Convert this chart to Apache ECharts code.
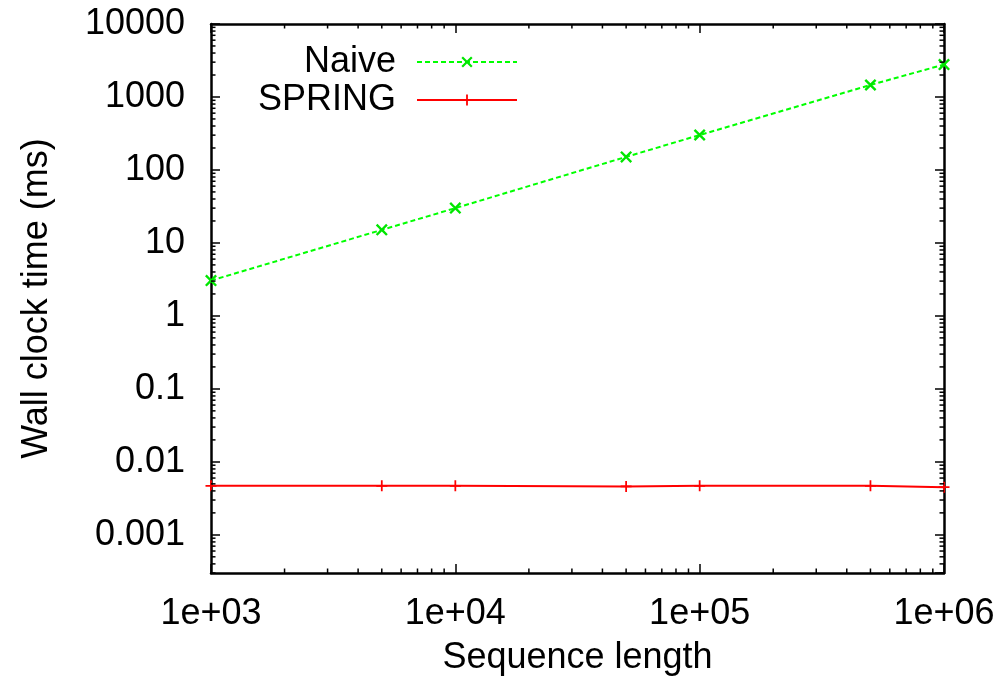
<!DOCTYPE html>
<html>
<head>
<meta charset="utf-8">
<script src="https://cdn.jsdelivr.net/npm/echarts@6/dist/echarts.min.js"></script>
<style>
html,body{margin:0;padding:0;background:#fff;}
#chart{width:1001px;height:687px;}
</style>
</head>
<body>
<div id="chart"></div>
<script>
// ---- data ----
var seqLength = [1000, 5000, 10000, 50000, 100000, 500000, 1000000];
var naiveMs   = [3.05, 15.1, 30, 151, 301, 1460, 2780];
var springMs  = [0.0047, 0.0047, 0.0047, 0.0046, 0.0047, 0.0047, 0.0045];

var xMin = 1000, xMax = 1000000;
var yMin = 0.0003, yMax = 10000;

var xTickLabels = {3: '1e+03', 4: '1e+04', 5: '1e+05', 6: '1e+06'};
var yTickLabels = {'-3': '0.001', '-2': '0.01', '-1': '0.1', '0': '1', '1': '10', '2': '100', '3': '1000', '4': '10000'};

var minorMultiples = [2, 3, 4, 5, 6, 7, 8, 9];
var xDecades = [1e3, 1e4, 1e5];
var yDecades = [1e-4, 1e-3, 1e-2, 1e-1, 1, 10, 100, 1000];

var xMinor = [];
xDecades.forEach(function (d) { minorMultiples.forEach(function (m) { var v = m * d; if (v > xMin && v < xMax) xMinor.push(v); }); });
var yMinor = [];
yDecades.forEach(function (d) { minorMultiples.forEach(function (m) { var v = m * d; if (v > yMin && v < yMax) yMinor.push(v); }); });

var FONT = 'Liberation Sans, Arial, Helvetica, sans-serif';
var FS = 36;
var MAJOR = 9, MINOR = 4.5;

var plusPath = 'path://M4.2,0H5.8V4.2H10V5.8H5.8V10H4.2V5.8H0V4.2H4.2Z';
var crossPath = 'path://M0,1.4L1.4,0L5,3.6L8.6,0L10,1.4L6.4,5L10,8.6L8.6,10L5,6.4L1.4,10L0,8.6L3.6,5Z';

function logKey(v) { return String(Math.round(Math.log10(v))); }

var chart = echarts.init(document.getElementById('chart'), null, {renderer: 'canvas'});

var tickStyle = {color: '#000', width: 1.5};
var lineStyleAxis = {color: '#000', width: 2.5};

var option = {
  animation: false,
  backgroundColor: '#fff',
  textStyle: {fontFamily: FONT},
  grid: {left: 211, top: 24, right: 57, bottom: 114, outerBoundsMode: 'none', containLabel: false},
  legend: [
    {
      data: ['Naive'], right: 483, top: 44, orient: 'vertical', align: 'right', padding: 0,
      itemWidth: 100, itemHeight: 14, selectedMode: false,
      textStyle: {fontSize: FS, fontFamily: FONT, color: '#000', padding: [0, 16, 0, 0]}
    },
    {
      data: ['SPRING'], right: 483, top: 82, orient: 'vertical', align: 'right', padding: 0,
      itemWidth: 100, itemHeight: 14, selectedMode: false,
      textStyle: {fontSize: FS, fontFamily: FONT, color: '#000', padding: [0, 16, 0, 0]}
    }
  ],
  xAxis: [
    {
      type: 'log', logBase: 10, min: xMin, max: xMax, position: 'bottom',
      name: 'Sequence length', nameLocation: 'middle', nameGap: 67,
      nameTextStyle: {fontSize: FS, fontFamily: FONT, color: '#000'},
      axisLine: {show: true, lineStyle: lineStyleAxis},
      axisTick: {show: true, inside: true, length: MAJOR, lineStyle: tickStyle},
      axisLabel: {
        fontSize: FS, fontFamily: FONT, color: '#000', margin: 23,
        formatter: function (v) { return xTickLabels[logKey(v)] || ''; }
      },
      splitLine: {show: false}
    },
    {
      type: 'log', logBase: 10, min: xMin, max: xMax, position: 'top',
      axisLine: {show: true, lineStyle: lineStyleAxis},
      axisTick: {show: true, inside: true, length: MAJOR, lineStyle: tickStyle},
      axisLabel: {show: false},
      splitLine: {show: false}
    }
  ],
  yAxis: [
    {
      type: 'log', logBase: 10, min: yMin, max: yMax, position: 'left',
      name: 'Wall clock time (ms)', nameLocation: 'middle', nameGap: 156,
      nameTextStyle: {fontSize: FS, fontFamily: FONT, color: '#000'},
      axisLine: {show: true, lineStyle: lineStyleAxis},
      axisTick: {show: true, inside: true, length: MAJOR, lineStyle: tickStyle},
      axisLabel: {
        fontSize: FS, fontFamily: FONT, color: '#000', margin: 26, showMinLabel: false,
        formatter: function (v) { return yTickLabels[logKey(v)] || ''; }
      },
      splitLine: {show: false}
    },
    {
      type: 'log', logBase: 10, min: yMin, max: yMax, position: 'right',
      axisLine: {show: true, lineStyle: lineStyleAxis},
      axisTick: {show: true, inside: true, length: MAJOR, lineStyle: tickStyle},
      axisLabel: {show: false},
      splitLine: {show: false}
    }
  ],
  series: [
    {
      name: 'Naive', type: 'line', xAxisIndex: 0, yAxisIndex: 0,
      data: seqLength.map(function (x, i) { return [x, naiveMs[i]]; }),
      symbol: crossPath, symbolSize: 12, showSymbol: true,
      lineStyle: {color: '#00ff00', width: 2, type: [5, 3]},
      itemStyle: {color: '#00e600'},
      emphasis: {disabled: true}, silent: true, z: 3
    },
    {
      name: 'SPRING', type: 'line', xAxisIndex: 0, yAxisIndex: 0,
      data: seqLength.map(function (x, i) { return [x, springMs[i]]; }),
      symbol: plusPath, symbolSize: 11, showSymbol: true,
      lineStyle: {color: '#ff0000', width: 2},
      itemStyle: {color: '#ff0000'},
      emphasis: {disabled: true}, silent: true, z: 3
    },
    {
      type: 'custom', xAxisIndex: 0, yAxisIndex: 0, silent: true, z: 4,
      data: xMinor.map(function (v) { return [v, 1]; }),
      renderItem: function (params, api) {
        var cs = params.coordSys;
        var px = api.coord([api.value(0), api.value(1)])[0];
        return {
          type: 'group',
          children: [
            {type: 'line', shape: {x1: px, y1: cs.y + cs.height, x2: px, y2: cs.y + cs.height - MINOR}, style: {stroke: '#000', lineWidth: 1.5}},
            {type: 'line', shape: {x1: px, y1: cs.y, x2: px, y2: cs.y + MINOR}, style: {stroke: '#000', lineWidth: 1.5}}
          ]
        };
      }
    },
    {
      type: 'custom', xAxisIndex: 0, yAxisIndex: 0, silent: true, z: 4,
      data: yMinor.map(function (v) { return [10000, v]; }),
      renderItem: function (params, api) {
        var cs = params.coordSys;
        var py = api.coord([api.value(0), api.value(1)])[1];
        return {
          type: 'group',
          children: [
            {type: 'line', shape: {x1: cs.x, y1: py, x2: cs.x + MINOR, y2: py}, style: {stroke: '#000', lineWidth: 1.5}},
            {type: 'line', shape: {x1: cs.x + cs.width, y1: py, x2: cs.x + cs.width - MINOR, y2: py}, style: {stroke: '#000', lineWidth: 1.5}}
          ]
        };
      }
    }
  ]
};
chart.setOption(option);
</script>
</body>
</html>
